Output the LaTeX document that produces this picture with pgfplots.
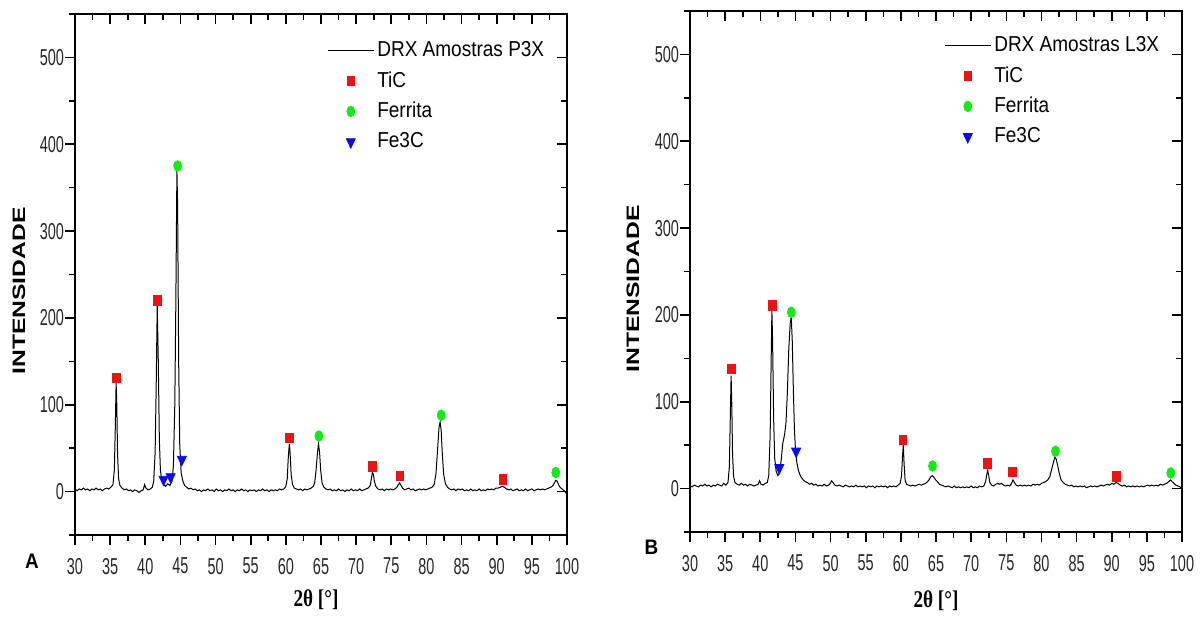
\documentclass[border=0pt]{standalone}
\usepackage{fontspec}
\setmainfont{Liberation Sans}
\newfontfamily\tickfont{Liberation Sans}[FakeStretch=0.63]
\newfontfamily\legfont{Liberation Sans}[FakeStretch=0.88]
\newfontfamily\ylabfont{Liberation Sans}[FakeStretch=1.37]
\newfontfamily\xlabfont{Liberation Serif}[FakeStretch=0.8]
\newfontfamily\letfont{Liberation Sans}[FakeStretch=0.9]
\usepackage{pgfplots}
\pgfplotsset{compat=1.18}
\definecolor{mred}{RGB}{235,20,20}
\definecolor{mgreen}{RGB}{20,235,20}
\definecolor{mblue}{RGB}{10,10,240}
\newcommand{\tfs}{\tickfont\fontsize{11.5}{13}\selectfont}

\pgfplotstableread{
x y
30.0 3
30.3 1
30.6 3
30.9 2
31.2 4
31.5 2
31.8 3
32.1 1
32.4 3
32.7 2
33.0 4
33.3 2
33.6 3
33.9 1
34.2 3
34.5 4
34.8 3
35.1 5
35.4 8
35.6 25
35.75 80
35.85 125
35.95 100
36.05 45
36.2 15
36.4 7
36.7 4
37.0 2
37.3 3
37.6 1
37.9 2
38.2 0
38.5 2
38.8 1
39.1 -1
39.4 1
39.7 2
39.9 8
40.1 4
40.4 2
40.7 3
41.0 5
41.2 12
41.4 45
41.55 120
41.7 215
41.85 150
42.0 60
42.15 25
42.35 12
42.6 8
42.9 6
43.2 9
43.5 7
43.8 12
44.0 30
44.2 100
44.35 220
44.5 370
44.6 330
44.75 150
44.9 55
45.1 22
45.35 12
45.6 7
45.9 5
46.2 3
46.5 4
46.8 2
47.1 3
47.4 1
47.7 2
48.0 0
48.3 2
48.6 1
48.9 3
49.2 1
49.5 2
49.8 0
50.1 3
50.4 1
50.7 2
51.0 0
51.3 2
51.6 1
51.9 3
52.2 1
52.5 2
52.8 0
53.1 2
53.4 1
53.7 3
54.0 1
54.3 2
54.6 0
54.9 2
55.2 1
55.5 2
55.8 0
56.1 2
56.4 1
56.7 3
57.0 1
57.3 2
57.6 0
57.9 2
58.2 1
58.5 2
58.8 1
59.1 3
59.4 2
59.7 3
60.0 6
60.2 15
60.35 40
60.5 55
60.6 45
60.75 20
60.95 8
61.2 4
61.5 3
61.8 2
62.1 3
62.4 1
62.7 3
63.0 2
63.3 3
63.6 4
63.9 6
64.1 10
64.3 25
64.5 45
64.65 55
64.8 45
64.95 25
65.15 10
65.4 5
65.7 3
66.0 2
66.3 3
66.6 1
66.9 2
67.2 1
67.5 3
67.8 1
68.1 2
68.4 0
68.7 2
69.0 1
69.3 3
69.6 1
69.9 2
70.2 1
70.5 3
70.8 1
71.1 2
71.4 3
71.7 4
72.0 7
72.15 14
72.3 22
72.45 20
72.6 12
72.8 6
73.1 3
73.4 2
73.7 3
74.0 1
74.3 3
74.6 2
74.9 3
75.2 2
75.5 3
75.8 5
76.0 8
76.2 10
76.4 7
76.6 4
76.9 2
77.2 3
77.5 4
77.8 2
78.1 3
78.4 1
78.7 2
79.0 3
79.3 2
79.6 3
79.9 2
80.2 3
80.5 4
80.8 5
81.1 8
81.35 20
81.6 50
81.8 75
81.95 80
82.1 70
82.25 45
82.45 20
82.7 9
83.0 5
83.3 3
83.6 2
83.9 3
84.2 1
84.5 3
84.8 2
85.1 3
85.4 1
85.7 2
86.0 1
86.3 3
86.6 1
86.9 2
87.2 1
87.5 3
87.8 1
88.1 2
88.4 1
88.7 3
89.0 2
89.3 3
89.6 2
89.9 4
90.2 4
90.5 5
90.8 6
91.1 5
91.4 3
91.7 2
92.0 3
92.3 1
92.6 2
92.9 3
93.2 1
93.5 2
93.8 1
94.1 3
94.4 1
94.7 2
95.0 3
95.3 1
95.6 2
95.9 3
96.2 2
96.5 3
96.8 2
97.1 3
97.4 4
97.7 5
98.0 7
98.2 10
98.4 13
98.6 12
98.8 8
99.0 5
99.3 3
99.6 1
99.9 -2
}\dataP

\pgfplotstableread{
x y
30.0 3
30.3 2
30.6 4
30.9 3
31.2 2
31.5 4
31.8 3
32.1 5
32.4 3
32.7 4
33.0 2
33.3 4
33.6 3
33.9 5
34.2 4
34.5 3
34.8 6
35.1 4
35.4 7
35.6 25
35.75 90
35.85 130
35.95 95
36.05 40
36.2 14
36.4 7
36.7 5
37.0 4
37.3 6
37.6 4
37.9 5
38.2 3
38.5 5
38.8 4
39.1 3
39.4 4
39.7 5
39.9 9
40.1 5
40.4 4
40.7 6
41.0 7
41.2 15
41.4 60
41.55 150
41.65 205
41.75 170
41.9 80
42.05 35
42.25 20
42.5 15
42.75 18
43.0 35
43.2 52
43.45 62
43.65 75
43.85 110
44.05 160
44.25 190
44.4 198
44.55 170
44.7 115
44.85 70
45.0 45
45.2 30
45.45 20
45.75 14
46.1 10
46.4 8
46.7 7
47.0 5
47.3 6
47.6 4
47.9 5
48.2 3
48.5 4
48.8 3
49.1 5
49.4 3
49.7 4
49.95 6
50.15 9
50.35 7
50.6 4
50.9 3
51.2 4
51.5 3
51.8 2
52.1 4
52.4 3
52.7 2
53.0 3
53.3 2
53.6 4
53.9 2
54.2 3
54.5 2
54.8 3
55.1 1
55.4 3
55.7 2
56.0 3
56.3 1
56.6 3
56.9 2
57.2 3
57.5 2
57.8 3
58.1 1
58.4 3
58.7 2
59.0 3
59.3 2
59.6 4
59.9 6
60.1 15
60.25 40
60.35 50
60.45 30
60.6 10
60.8 5
61.1 4
61.4 3
61.7 4
62.0 3
62.3 4
62.6 5
62.9 4
63.2 5
63.5 6
63.8 8
64.0 10
64.2 13
64.45 15
64.7 13
64.95 10
65.2 8
65.5 5
65.8 4
66.1 3
66.4 2
66.7 3
67.0 2
67.3 1
67.6 3
67.9 1
68.2 2
68.5 1
68.8 2
69.1 1
69.4 2
69.7 1
70.0 3
70.3 1
70.6 2
70.9 1
71.2 3
71.5 2
71.8 3
72.05 8
72.2 15
72.35 21
72.5 15
72.65 7
72.9 4
73.2 3
73.5 5
73.8 6
74.0 5
74.3 6
74.6 4
74.9 3
75.2 4
75.5 3
75.75 6
75.95 10
76.15 7
76.4 4
76.7 3
77.0 4
77.3 3
77.6 4
77.9 3
78.2 4
78.5 3
78.8 5
79.1 4
79.4 5
79.7 4
80.0 6
80.3 7
80.6 8
80.9 10
81.2 14
81.45 22
81.7 30
81.9 36
82.1 34
82.3 27
82.55 17
82.8 10
83.1 7
83.4 5
83.7 4
84.0 3
84.3 4
84.6 2
84.9 3
85.2 2
85.5 3
85.8 2
86.1 3
86.4 1
86.7 2
87.0 3
87.3 2
87.6 3
87.9 2
88.2 3
88.5 4
88.8 3
89.1 4
89.4 5
89.7 4
90.0 6
90.3 5
90.6 7
90.9 6
91.2 4
91.5 3
91.8 4
92.1 2
92.4 3
92.7 2
93.0 3
93.3 2
93.6 3
93.9 2
94.2 3
94.5 2
94.8 3
95.1 4
95.4 3
95.7 4
96.0 3
96.3 4
96.6 3
96.9 5
97.2 4
97.5 5
97.8 6
98.1 8
98.35 10
98.6 8
98.85 6
99.1 4
99.4 3
99.7 2
100.0 0
}\dataL

\pgfplotsset{
 xrdbase/.style={
  scale only axis, width=246pt, height=260.5pt, anchor=south west,
  xmin=30,xmax=100,ymin=-50,ymax=550,
  xtick={30,35,...,100}, ytick={0,100,...,500},
  minor xtick={32.5,37.5,...,97.5}, minor ytick={-50,50,...,550},
  axis line style={line width=1.2pt},
  major tick length=5pt, minor tick length=3pt,
  every tick/.style={black, line width=0.8pt},
  /pgf/number format/assume math mode=true,
 },
 xrdmain/.style={xrdbase, tick align=outside, xtick pos=left, ytick pos=left,
  xticklabel={\tfs\pgfmathprintnumber[assume math mode=true]{\tick}},
  yticklabel={\tfs\pgfmathprintnumber[assume math mode=true]{\tick}},
  xticklabel style={text=black!85, yshift=-3pt},
  yticklabel style={text=black!85, xshift=3pt},
  legend cell align=left,
  legend style={draw=none, fill=none, font=\legfont\fontsize{10.8}{12}\selectfont,
    anchor=north west, inner sep=0pt, row sep=3pt, nodes={inner sep=1.5pt}},
  legend image code/.code={\draw[mark repeat=2,mark phase=2,##1] plot coordinates {(0pt,0pt) (11.5pt,0pt) (23pt,0pt)};},
 },
 xrdover/.style={xrdbase, tick align=inside, xtick pos=right, ytick pos=right, xticklabels={}, yticklabels={}},
 tic/.style={only marks, mark=square*, mark size=1.9pt, mark options={draw=mred, fill=mred, yscale=1.25}},
 fer/.style={only marks, mark=*, mark size=2.2pt, mark options={draw=mgreen, fill=mgreen, xscale=0.9, yscale=1.2}},
 cem/.style={only marks, mark=triangle*, mark size=2.6pt, mark options={draw=mblue, fill=mblue, rotate=180, yscale=1.2}},
}

\begin{document}
\begin{tikzpicture}
\path[use as bounding box] (0,0) rectangle (601pt,308.5pt);
% ---- Panel A ----
\begin{axis}[xrdmain, at={(37.5pt,41pt)}, legend style={at={(0.512,0.954)}}]
\addplot[black, line width=0.5pt] table[x=x,y=y] {\dataP};
\addlegendentry{DRX Amostras P3X}
\addplot[tic] coordinates {(35.9,131) (41.7,220) (60.5,62) (72.3,29) (76.2,18) (90.9,14)};
\addlegendentry{TiC}
\addplot[fer] coordinates {(44.6,375) (64.7,64) (82.1,88) (98.4,22)};
\addlegendentry{Ferrita}
\addplot[cem] coordinates {(42.6,14) (43.6,17) (45.2,37)};
\addlegendentry{Fe3C}
\end{axis}
\begin{axis}[xrdover, at={(37.5pt,41pt)}]
\addplot[draw=none] coordinates {(50,0)};
\end{axis}
% ---- Panel B ----
\begin{axis}[xrdmain, at={(345pt,42.5pt)}, legend style={at={(0.516,0.958)}}]
\addplot[black, line width=0.5pt] table[x=x,y=y] {\dataL};
\addlegendentry{DRX Amostras L3X}
\addplot[tic] coordinates {(35.9,138) (41.7,211) (60.3,56) (72.35,29) (75.9,19) (90.7,14)};
\addlegendentry{TiC}
\addplot[fer] coordinates {(44.4,203) (64.5,26) (82.0,43) (98.4,18)};
\addlegendentry{Ferrita}
\addplot[cem] coordinates {(42.7,24) (45.1,43)};
\addlegendentry{Fe3C}
\end{axis}
\begin{axis}[xrdover, at={(345pt,42.5pt)}]
\addplot[draw=none] coordinates {(50,0)};
\end{axis}
% ---- labels ----
\node[rotate=90, font=\ylabfont\bfseries\fontsize{9}{10}\selectfont] at (9.5pt,163pt) {INTENSIDADE};
\node[rotate=90, font=\ylabfont\bfseries\fontsize{9}{10}\selectfont] at (316.5pt,164pt) {INTENSIDADE};
\node[font=\xlabfont\bfseries\fontsize{12}{13}\selectfont] at (158pt,8.75pt) {2θ [°]};
\node[font=\xlabfont\bfseries\fontsize{12}{13}\selectfont] at (468pt,8pt) {2θ [°]};
\node[font=\letfont\bfseries\fontsize{10.5}{12}\selectfont] at (16pt,27.75pt) {A};
\node[font=\letfont\bfseries\fontsize{10.5}{12}\selectfont] at (325.75pt,34.75pt) {B};
\end{tikzpicture}
\end{document}
